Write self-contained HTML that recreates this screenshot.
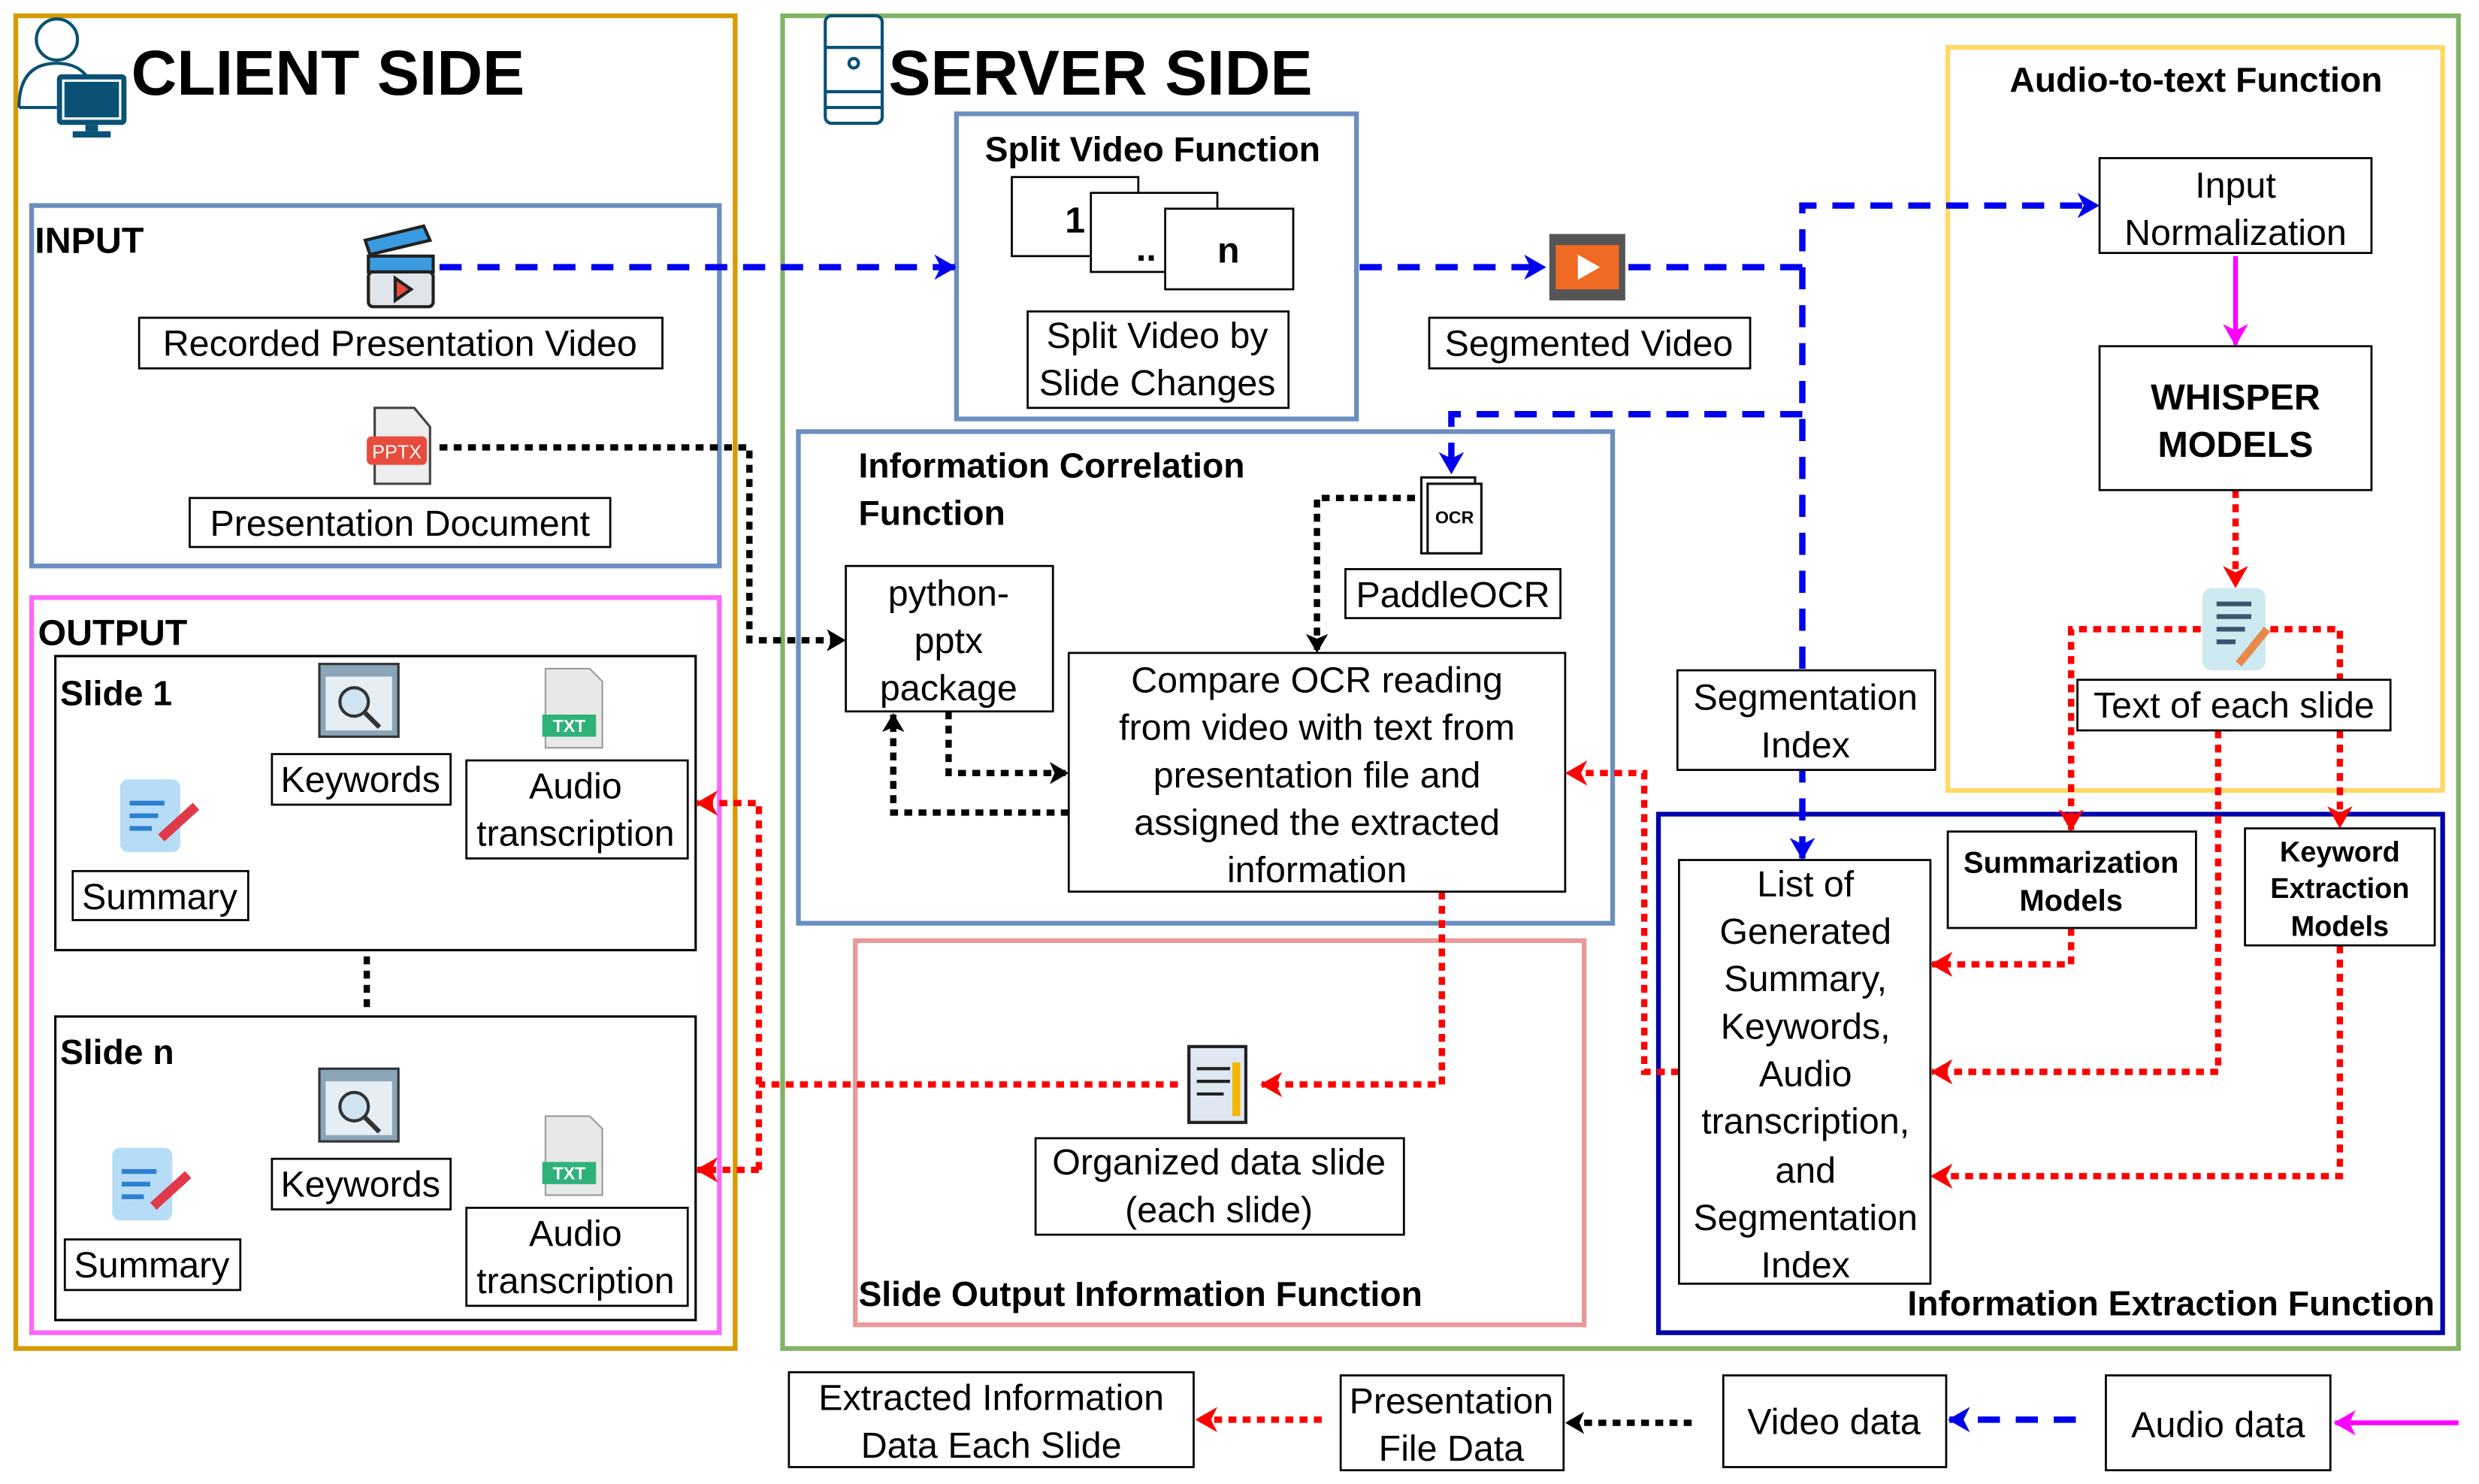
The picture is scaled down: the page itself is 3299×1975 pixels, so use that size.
<!DOCTYPE html>
<html><head><meta charset="utf-8"><style>
html,body{margin:0;padding:0;background:#fff;}
svg{display:block;}
text{font-family:"Liberation Sans",Arial,sans-serif;fill:#000;}
.t{font-size:23px;}
.b{font-weight:bold;}
</style></head><body>
<svg width="3299" height="1975" viewBox="0 0 1568 938.7" xmlns="http://www.w3.org/2000/svg">
<defs>
<marker id="ab" viewBox="-13 -8 15 16" refX="0" refY="0" markerWidth="15" markerHeight="16" orient="auto" markerUnits="userSpaceOnUse"><path d="M-13,-8 L1,0 L-13,8 L-9,0 z" fill="#0000ee"/></marker>
<marker id="ar" viewBox="-13 -8 15 16" refX="0" refY="0" markerWidth="15" markerHeight="16" orient="auto" markerUnits="userSpaceOnUse"><path d="M-13,-8 L1,0 L-13,8 L-9,0 z" fill="#ff0000"/></marker>
<marker id="ak" viewBox="-11 -7 13 14" refX="0" refY="0" markerWidth="13" markerHeight="14" orient="auto" markerUnits="userSpaceOnUse"><path d="M-11,-7 L1,0 L-11,7 L-8,0 z" fill="#000"/></marker>
<marker id="am" viewBox="-13 -8 15 16" refX="0" refY="0" markerWidth="15" markerHeight="16" orient="auto" markerUnits="userSpaceOnUse"><path d="M-13,-8 L1,0 L-13,8 L-9,0 z" fill="#ff00ff"/></marker>
</defs>

<!-- frames -->
<rect x="10" y="10" width="455" height="843" fill="none" stroke="#d79b00" stroke-width="3"/>
<rect x="495" y="10" width="1060" height="843" fill="none" stroke="#82b366" stroke-width="3"/>
<rect x="20" y="130" width="435" height="228" fill="none" stroke="#6c8ebf" stroke-width="3"/>
<rect x="20" y="378" width="435" height="465" fill="none" stroke="#ff66ff" stroke-width="3"/>
<rect x="35" y="415" width="405" height="186" fill="none" stroke="#000" stroke-width="1.5"/>
<rect x="35" y="643" width="405" height="192" fill="none" stroke="#000" stroke-width="1.5"/>
<rect x="605" y="72" width="253" height="193" fill="none" stroke="#6c8ebf" stroke-width="3"/>
<rect x="1232" y="30" width="313" height="470" fill="none" stroke="#ffd966" stroke-width="3"/>
<rect x="505" y="273" width="515" height="311" fill="none" stroke="#6c8ebf" stroke-width="3"/>
<rect x="541" y="595" width="461" height="243" fill="none" stroke="#ea9999" stroke-width="3"/>
<rect x="1049" y="515" width="496" height="328" fill="none" stroke="#0000aa" stroke-width="3"/>

<!-- blue dashed -->
<g fill="none" stroke="#0000ee" stroke-width="4" stroke-dasharray="14,10">
<path d="M278,169 H604" marker-end="url(#ab)"/>
<path d="M860,169 H977" marker-end="url(#ab)"/>
<path d="M1030,169 H1140 V130 H1327" marker-end="url(#ab)"/>
<path d="M1140,169 V543" marker-end="url(#ab)"/>
<path d="M1140,262 H918 V299" marker-end="url(#ab)"/>
<path d="M1313,898 H1233" marker-end="url(#ab)"/>
</g>
<!-- black dotted -->
<g fill="none" stroke="#000" stroke-width="4" stroke-dasharray="5,4">
<path d="M278,283 H474 V405 H534" marker-end="url(#ak)"/>
<path d="M895,315 H833 V412" marker-end="url(#ak)"/>
<path d="M600,450 V489 H675" marker-end="url(#ak)"/>
<path d="M676,514 H565 V452" marker-end="url(#ak)"/>
<path d="M232,605 V640"/>
<path d="M1070,900 H991" marker-end="url(#ak)"/>
</g>
<!-- red dotted -->
<g fill="none" stroke="#ff0000" stroke-width="4" stroke-dasharray="5,4">
<path d="M1414,310 V371" marker-end="url(#ar)"/>
<path d="M1392,398 H1310 V525" marker-end="url(#ar)"/>
<path d="M1436,398 H1480 V523" marker-end="url(#ar)"/>
<path d="M1310,587 V610 H1222" marker-end="url(#ar)"/>
<path d="M1403,462 V678 H1222" marker-end="url(#ar)"/>
<path d="M1480,598 V744 H1222" marker-end="url(#ar)"/>
<path d="M1062,678 H1040 V489 H991" marker-end="url(#ar)"/>
<path d="M912,564 V686 H798" marker-end="url(#ar)"/>
<path d="M745,686 H480"/>
<path d="M480,740 V508 H441" marker-end="url(#ar)"/>
<path d="M480,740 H441" marker-end="url(#ar)"/>
<path d="M836,898 H757" marker-end="url(#ar)"/>
</g>
<!-- magenta -->
<g fill="none" stroke="#ff00ff" stroke-width="3">
<path d="M1414,162 V218" marker-end="url(#am)"/>
<path d="M1555,900 H1477" marker-end="url(#am)"/>
</g>

<!-- titles -->
<text x="83" y="60" class="b" font-size="40">CLIENT SIDE</text>
<text x="562" y="60" class="b" font-size="40">SERVER SIDE</text>
<text x="22" y="160" class="b" font-size="23">INPUT</text>
<text x="24" y="408" class="b" font-size="23">OUTPUT</text>
<text x="38" y="446" class="b" font-size="22">Slide 1</text>
<text x="38" y="673" class="b" font-size="22">Slide n</text>
<text x="729" y="102" class="b" font-size="22" text-anchor="middle">Split Video Function</text>
<text x="1389" y="58" class="b" font-size="22" text-anchor="middle">Audio-to-text Function</text>
<text x="543" y="302" class="b" font-size="22">Information Correlation</text>
<text x="543" y="332" class="b" font-size="22">Function</text>
<text x="543" y="826" class="b" font-size="22">Slide Output Information Function</text>
<text x="1540" y="832" class="b" font-size="22" text-anchor="end">Information Extraction Function</text>

<!-- icons -->
<g stroke="#0a5275" stroke-width="2" fill="none">
<circle cx="36" cy="25" r="13"/>
<path d="M12,68 Q12,40 36,40 Q50,40 56,50"/>
<line x1="12" y1="68" x2="36" y2="68"/>
</g>
<rect x="36" y="47" width="44" height="32" rx="3" fill="#0a5275"/>
<rect x="40" y="51" width="36" height="24" fill="#0a5275" stroke="#fff" stroke-width="1.5"/>
<rect x="54" y="79" width="8" height="4" fill="#0a5275"/><rect x="46" y="83" width="24" height="4" fill="#0a5275"/>
<g stroke="#0a5275" stroke-width="2" fill="#fff">
<rect x="522" y="10" width="36" height="68" rx="4"/>
<line x1="522" y1="30" x2="558" y2="30"/><line x1="522" y1="58" x2="558" y2="58"/>
<line x1="522" y1="68" x2="558" y2="68"/>
<circle cx="540" cy="40" r="3"/>
</g>
<g stroke="#222" stroke-width="2">
<path d="M231,152 L268,143 L272,152 L234,161 z" fill="#3a9be0"/>
<rect x="233" y="162" width="41" height="10" fill="#3a9be0"/>
<rect x="233" y="172" width="41" height="22" rx="3" fill="#dfe3ea"/>
<path d="M250,176 L260,183 L250,190 z" fill="#e84c3d"/>
</g>
<path d="M237,258 L262,258 L272,270 L272,306 L237,306 z" fill="#eee" stroke="#444" stroke-width="1.5"/>
<rect x="232" y="276" width="38" height="18" rx="3" fill="#e84c3d"/>
<text x="251" y="290" font-size="12" text-anchor="middle" style="fill:#fff">PPTX</text>
<rect x="980" y="148" width="48" height="42" fill="#555"/>
<rect x="984" y="155" width="40" height="28" fill="#f06a24"/>
<path d="M998,161 L1012,169 L998,177 z" fill="#fff"/>
<g stroke="#111" stroke-width="1.5" fill="#fff">
<rect x="899" y="302" width="34" height="48"/><rect x="903" y="306" width="34" height="44"/>
</g>
<text x="920" y="331" font-size="11" class="b" text-anchor="middle">OCR</text>
<rect x="1393" y="372" width="40" height="52" rx="6" fill="#cdeaf0"/>
<g stroke="#3b5470" stroke-width="3"><line x1="1402" y1="382" x2="1424" y2="382"/><line x1="1402" y1="390" x2="1424" y2="390"/><line x1="1402" y1="398" x2="1420" y2="398"/><line x1="1402" y1="406" x2="1414" y2="406"/></g>
<line x1="1416" y1="420" x2="1434" y2="398" stroke="#e8894c" stroke-width="5"/>
<g><rect x="202" y="420" width="50" height="46" fill="#8aa5b8" stroke="#333" stroke-width="1.5"/><rect x="206" y="428" width="42" height="34" fill="#e6eef5"/><circle cx="224" cy="444" r="9" fill="#cfe3f3" stroke="#333" stroke-width="2"/><line x1="231" y1="451" x2="240" y2="460" stroke="#333" stroke-width="3"/></g>
<g><rect x="202" y="676" width="50" height="46" fill="#8aa5b8" stroke="#333" stroke-width="1.5"/><rect x="206" y="684" width="42" height="34" fill="#e6eef5"/><circle cx="224" cy="700" r="9" fill="#cfe3f3" stroke="#333" stroke-width="2"/><line x1="231" y1="707" x2="240" y2="716" stroke="#333" stroke-width="3"/></g>
<g><path d="M345,423 L373,423 L381,431 L381,473 L345,473 z" fill="#e8e8e8" stroke="#999"/><rect x="343" y="452" width="34" height="14" fill="#2fb17a"/><text x="360" y="463" font-size="11" class="b" text-anchor="middle" style="fill:#fff">TXT</text></g>
<g><path d="M345,706 L373,706 L381,714 L381,756 L345,756 z" fill="#e8e8e8" stroke="#999"/><rect x="343" y="735" width="34" height="14" fill="#2fb17a"/><text x="360" y="746" font-size="11" class="b" text-anchor="middle" style="fill:#fff">TXT</text></g>
<g><rect x="76" y="493" width="38" height="46" rx="5" fill="#b6ddf5"/><g stroke="#2d7fd1" stroke-width="3"><line x1="82" y1="508" x2="104" y2="508"/><line x1="82" y1="516" x2="100" y2="516"/><line x1="82" y1="524" x2="96" y2="524"/></g><line x1="102" y1="530" x2="124" y2="510" stroke="#e03a4a" stroke-width="6"/></g>
<g><rect x="71" y="726" width="38" height="46" rx="5" fill="#b6ddf5"/><g stroke="#2d7fd1" stroke-width="3"><line x1="77" y1="741" x2="99" y2="741"/><line x1="77" y1="749" x2="95" y2="749"/><line x1="77" y1="757" x2="91" y2="757"/></g><line x1="97" y1="763" x2="119" y2="743" stroke="#e03a4a" stroke-width="6"/></g>
<rect x="752" y="662" width="36" height="48" fill="#dfe7f2" stroke="#222" stroke-width="2"/>
<g stroke="#222" stroke-width="2"><line x1="757" y1="676" x2="778" y2="676"/><line x1="757" y1="684" x2="778" y2="684"/><line x1="757" y1="692" x2="774" y2="692"/></g>
<line x1="782" y1="672" x2="782" y2="706" stroke="#f2b705" stroke-width="5"/>

<!-- text boxes -->
<g fill="#fff" stroke="#000" stroke-width="1.3">
<rect x="88" y="201" width="331" height="32"/>
<rect x="120" y="315" width="266" height="31"/>
<rect x="640" y="112" width="80" height="50"/>
<rect x="690" y="122" width="80" height="50"/>
<rect x="737" y="132" width="81" height="51"/>
<rect x="650" y="197" width="165" height="61"/>
<rect x="904" y="201" width="203" height="32"/>
<rect x="1328" y="100" width="172" height="60"/>
<rect x="1328" y="219" width="172" height="91"/>
<rect x="1314" y="430" width="198" height="32"/>
<rect x="1061" y="424" width="163" height="63"/>
<rect x="1232" y="526" width="157" height="61"/>
<rect x="1420" y="524" width="120" height="74"/>
<rect x="1062" y="544" width="159" height="268"/>
<rect x="535" y="358" width="131" height="92"/>
<rect x="676" y="413" width="314" height="151"/>
<rect x="851" y="360" width="136" height="31"/>
<rect x="655" y="720" width="233" height="61"/>
<rect x="172" y="477" width="113" height="32"/>
<rect x="295" y="481" width="140" height="62"/>
<rect x="46" y="551" width="111" height="31"/>
<rect x="172" y="733" width="113" height="32"/>
<rect x="295" y="764" width="140" height="62"/>
<rect x="41" y="784" width="111" height="32"/>
<rect x="499" y="868" width="256" height="60"/>
<rect x="848" y="870" width="141" height="60"/>
<rect x="1090" y="870" width="141" height="58"/>
<rect x="1332" y="870" width="142" height="60"/>
</g>

<g class="t" text-anchor="middle" font-size="23">
<text x="253" y="225">Recorded Presentation Video</text>
<text x="253" y="339">Presentation Document</text>
<text x="680" y="147" class="b">1</text>
<text x="725" y="165" class="b">..</text>
<text x="777" y="166" class="b">n</text>
<text x="732" y="220">Split Video by</text>
<text x="732" y="250">Slide Changes</text>
<text x="1005" y="225">Segmented Video</text>
<text x="1414" y="125">Input</text>
<text x="1414" y="155">Normalization</text>
<text x="1414" y="259" class="b">WHISPER</text>
<text x="1414" y="289" class="b">MODELS</text>
<text x="1413" y="454">Text of each slide</text>
<text x="1142" y="449">Segmentation</text>
<text x="1142" y="479">Index</text>
<text x="1310" y="552" class="b" font-size="19">Summarization</text>
<text x="1310" y="576" class="b" font-size="19">Models</text>
<text x="1480" y="545" class="b" font-size="18">Keyword</text>
<text x="1480" y="568" class="b" font-size="18">Extraction</text>
<text x="1480" y="592" class="b" font-size="18">Models</text>
<text x="1142" y="567">List of</text>
<text x="1142" y="597">Generated</text>
<text x="1142" y="627">Summary,</text>
<text x="1142" y="657">Keywords,</text>
<text x="1142" y="687">Audio</text>
<text x="1142" y="717">transcription,</text>
<text x="1142" y="748">and</text>
<text x="1142" y="778">Segmentation</text>
<text x="1142" y="808">Index</text>
<text x="600" y="383">python-</text>
<text x="600" y="413">pptx</text>
<text x="600" y="443">package</text>
<text x="833" y="438">Compare OCR reading</text>
<text x="833" y="468">from video with text from</text>
<text x="833" y="498">presentation file and</text>
<text x="833" y="528">assigned the extracted</text>
<text x="833" y="558">information</text>
<text x="919" y="384">PaddleOCR</text>
<text x="771" y="743">Organized data slide</text>
<text x="771" y="773">(each slide)</text>
<text x="228" y="501">Keywords</text>
<text x="364" y="505">Audio</text>
<text x="364" y="535">transcription</text>
<text x="101" y="575">Summary</text>
<text x="228" y="757">Keywords</text>
<text x="364" y="788">Audio</text>
<text x="364" y="818">transcription</text>
<text x="96" y="808">Summary</text>
<text x="627" y="892">Extracted Information</text>
<text x="627" y="922">Data Each Slide</text>
<text x="918" y="894">Presentation</text>
<text x="918" y="924">File Data</text>
<text x="1160" y="907">Video data</text>
<text x="1403" y="909">Audio data</text>
</g>
</svg>
</body></html>
